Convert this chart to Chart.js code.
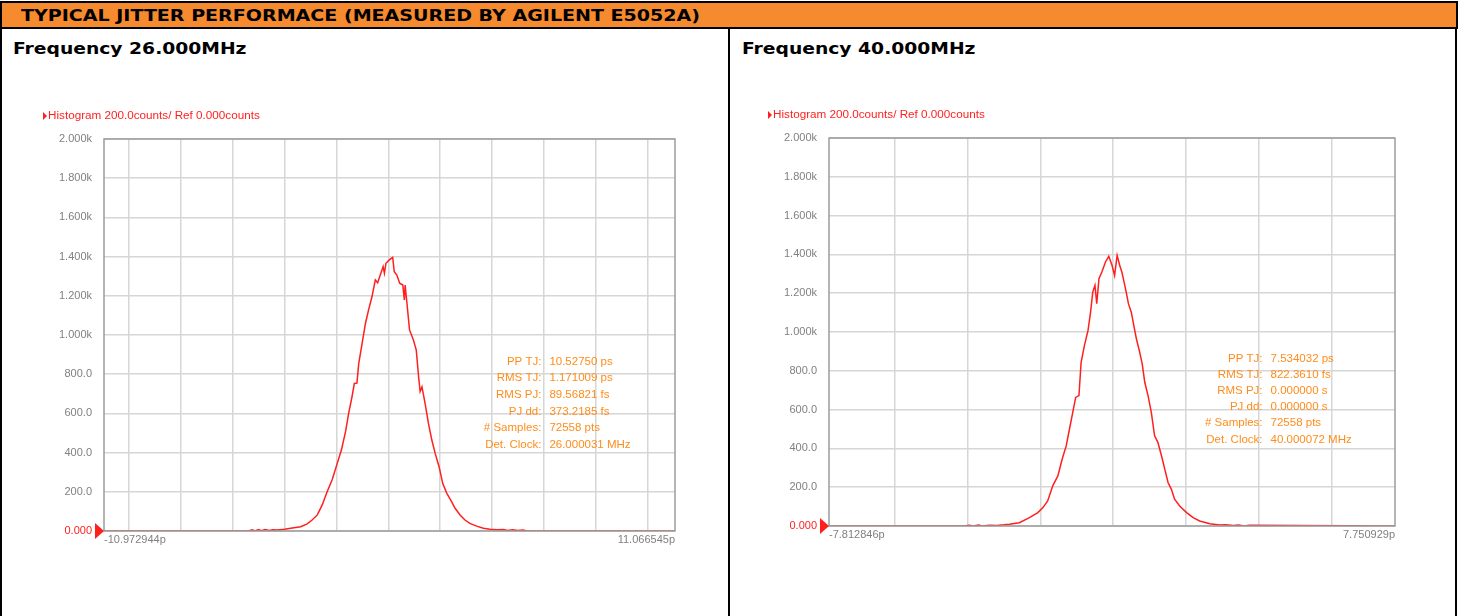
<!DOCTYPE html>
<html>
<head>
<meta charset="utf-8">
<script src="https://cdn.jsdelivr.net/npm/chart.js@4.4.0/dist/chart.umd.min.js"></script>
<style>
  body { margin: 0; background: #fff; }
  #page { position: relative; width: 1458px; height: 616px; overflow: hidden; }
  .hdr { position: absolute; left: 0; top: 1px; width: 1458px; height: 28px; box-sizing: border-box;
         border: 2px solid #000; background: #f68a2f; }
  .hdr span { position: absolute; left: 19px; top: 3px; font: bold 16px "DejaVu Sans", sans-serif; color: #000;
              white-space: nowrap; transform: scaleX(1.19); transform-origin: left center; }
  .vline { position: absolute; top: 27px; bottom: 0; width: 2px; background: #000; }
  .freq { position: absolute; top: 39px; font: bold 16px "DejaVu Sans", sans-serif; color: #000; white-space: nowrap;
          transform: scaleX(1.17); transform-origin: left center; }
  .box { position: absolute; top: 95px; height: 465px; }
</style>
</head>
<body>
<div id="page">
  <div class="hdr"><span>TYPICAL JITTER PERFORMACE (MEASURED BY AGILENT E5052A)</span></div>
  <div class="vline" style="left:0"></div>
  <div class="vline" style="left:728px"></div>
  <div class="vline" style="left:1455px"></div>
  <div class="freq" style="left:13px">Frequency 26.000MHz</div>
  <div class="freq" style="left:742px">Frequency 40.000MHz</div>
  <div class="box" style="left:2px;width:726px"><canvas id="chart26"></canvas></div>
  <div class="box" style="left:731px;width:724px"><canvas id="chart40"></canvas></div>
</div>
<script>
'use strict';

// 26 MHz histogram (time in ps, counts)
const time26 = [-10.972944, -5.4, -5.25, -5.15, -5.0, -4.9, -4.75, -4.6, -4.45, -4.28, -4.0, -3.77, -3.38, -3.13, -2.94,
  -2.74, -2.55, -2.36, -2.17, -1.97, -1.81, -1.65, -1.53, -1.40, -1.31, -1.21, -1.14, -1.01, -0.88, -0.76, -0.63,
  -0.5, -0.41, -0.31, -0.2, -0.15, -0.09, 0.04, 0.17, 0.23, 0.33, 0.44, 0.56, 0.62, 0.65, 0.72, 0.82, 0.97, 1.08,
  1.17, 1.23, 1.3, 1.42, 1.55, 1.68, 1.81, 1.96, 2.1, 2.26, 2.41, 2.58, 2.77, 2.96, 3.15, 3.41, 3.67, 3.92, 4.2,
  4.45, 4.6, 4.8, 5.0, 5.2, 5.35, 11.066545];
const counts26 = [0, 0, 6, 0, 7, 2, 8, 3, 6, 5, 9, 14, 22, 36, 56,
  82, 133, 200, 260, 345, 413, 507, 600, 685, 753, 755, 855, 957, 1060, 1128, 1195,
  1281, 1267, 1306, 1349, 1315, 1366, 1383, 1396, 1323, 1306, 1264, 1255, 1179, 1255, 1162, 1026, 974, 923,
  787, 712, 735, 651, 549, 464, 396, 328, 243, 192, 158, 116, 82, 56, 39, 25, 14, 9, 6,
  8, 3, 6, 2, 5, 0, 0];

// 40 MHz histogram
const time40 = [-7.812846, -4.1, -3.95, -3.85, -3.7, -3.6, -3.4, -3.2, -3.0, -2.85, -2.58, -2.3, -2.07, -1.93, -1.80,
  -1.66, -1.52, -1.40, -1.29, -1.20, -1.11, -1.03, -0.94, -0.88, -0.79, -0.69, -0.62, -0.56, -0.50, -0.45, -0.39,
  -0.31, -0.21, -0.12, -0.03, 0.04, 0.11, 0.18, 0.24, 0.30, 0.36, 0.42, 0.50, 0.56, 0.64, 0.73, 0.80, 0.87, 0.96,
  1.05, 1.14, 1.23, 1.33, 1.42, 1.51, 1.60, 1.69, 1.83, 2.02, 2.20, 2.38, 2.66, 2.93, 3.1, 3.3, 3.45, 3.6, 3.75,
  7.750929];
const counts40 = [0, 0, 4, 0, 5, 0, 4, 3, 6, 9, 17, 43, 69, 95, 129,
  207, 258, 345, 413, 500, 586, 663, 672, 844, 930, 1008, 1102, 1206, 1240, 1146, 1275,
  1309, 1361, 1390, 1344, 1292, 1395, 1344, 1309, 1258, 1206, 1146, 1102, 1042, 965, 896, 836, 741, 672,
  586, 465, 431, 362, 293, 224, 190, 138, 103, 69, 43, 26, 12, 5, 6, 2, 5, 0, 4,
  0];

const yTickLabels = ['0.000', '200.0', '400.0', '600.0', '800.0', '1.000k', '1.200k', '1.400k', '1.600k', '1.800k', '2.000k'];
const xEdgeLabels26 = ['-10.972944p', '11.066545p'];
const xEdgeLabels40 = ['-7.812846p', '7.750929p'];

const statLabels = ['PP TJ:', 'RMS TJ:', 'RMS PJ:', 'PJ dd:', '# Samples:', 'Det. Clock:'];
const statValues26 = ['10.52750 ps', '1.171009 ps', '89.56821 fs', '373.2185 fs', '72558 pts', '26.000031 MHz'];
const statValues40 = ['7.534032 ps', '822.3610 fs', '0.000000 s', '0.000000 s', '72558 pts', '40.000072 MHz'];

const traceTitle = 'Histogram 200.0counts/ Ref 0.000counts';

const RED = '#ff1f1f';
const GRAY_TXT = '#808080';
const ORANGE_TXT = '#ff8c1a';

Chart.defaults.font.family = '"Liberation Sans", Arial, sans-serif';
Chart.defaults.font.size = 11;

// frame, marker triangles, trace title and the measurement readout
const analyzerDecor = {
  id: 'analyzerDecor',
  afterDatasetsDraw(chart, args, opts) {
    const ctx = chart.ctx;
    const a = chart.chartArea;
    const y0 = chart.scales.y.getPixelForValue(0);
    ctx.save();
    ctx.strokeStyle = '#9c9c9c';
    ctx.lineWidth = 1.5;
    ctx.strokeRect(a.left, a.top, a.right - a.left, a.bottom - a.top);

    // reference marker at 0
    ctx.fillStyle = RED;
    ctx.beginPath();
    ctx.moveTo(a.left - 9, y0 - 8);
    ctx.lineTo(a.left, y0);
    ctx.lineTo(a.left - 9, y0 + 8);
    ctx.closePath();
    ctx.fill();

    // trace title
    const tx = a.left - 61, ty = a.top - 23;
    ctx.beginPath();
    ctx.moveTo(tx, ty - 4);
    ctx.lineTo(tx + 4, ty);
    ctx.lineTo(tx, ty + 4);
    ctx.closePath();
    ctx.fill();
    ctx.font = '11.7px "Liberation Sans", Arial, sans-serif';
    ctx.textBaseline = 'middle';
    ctx.textAlign = 'left';
    ctx.fillText(traceTitle, tx + 5, ty);

    // readout
    const cx = a.left + 0.766 * (a.right - a.left);
    const cy = a.top + 0.568 * (a.bottom - a.top);
    ctx.font = '11.5px "Liberation Sans", Arial, sans-serif';
    ctx.fillStyle = ORANGE_TXT;
    opts.values.forEach((v, i) => {
      ctx.textAlign = 'right';
      ctx.fillText(statLabels[i], cx, cy + i * opts.rowGap);
      ctx.textAlign = 'left';
      ctx.fillText(v, cx + 8, cy + i * opts.rowGap);
    });
    ctx.restore();
  }
};

function makeHistogram(canvasId, times, counts, edgeLabels, values, dims) {
  const points = times.map((t, i) => ({ x: t, y: counts[i] }));
  const xMin = times[0];
  const xMax = times[times.length - 1];
  return new Chart(document.getElementById(canvasId), {
    type: 'line',
    data: {
      datasets: [{
        data: points,
        borderColor: RED,
        borderWidth: 1.5,
        pointRadius: 0,
        tension: 0,
        fill: false
      }]
    },
    options: {
      responsive: true,
      maintainAspectRatio: false,
      animation: false,
      events: [],
      layout: { padding: { left: 0, right: dims.right, top: dims.top, bottom: 0 } },
      plugins: {
        legend: { display: false },
        tooltip: { enabled: false },
        analyzerDecor: { values: values, rowGap: dims.rowGap }
      },
      scales: {
        x: {
          type: 'linear',
          min: xMin,
          max: xMax,
          weight: 0,
          afterBuildTicks: (s) => {
            const t = [];
            for (let v = -10; v <= 10; v += 2) {
              if (v > xMin && v < xMax) t.push({ value: v });
            }
            s.ticks = t;
          },
          afterFit: (s) => { s.height = 0; },
          ticks: { display: false },
          grid: { color: '#d6d6d6', lineWidth: 1.5, drawTicks: false },
          border: { display: false }
        },
        x2: {
          type: 'linear',
          position: 'bottom',
          min: xMin,
          max: xMax,
          weight: 1,
          afterBuildTicks: (s) => { s.ticks = [{ value: xMin }, { value: xMax }]; },
          afterFit: (s) => { s.height = dims.bottom; },
          ticks: {
            align: 'inner',
            color: GRAY_TXT,
            padding: 2,
            maxRotation: 0,
            autoSkip: false,
            callback: (v, i) => edgeLabels[i]
          },
          grid: { display: false, drawTicks: false },
          border: { display: false }
        },
        y: {
          min: 0,
          max: 2000,
          afterFit: (s) => { s.width = dims.left; },
          ticks: {
            stepSize: 200,
            padding: 12,
            color: (c) => (c.tick.value === 0 ? RED : GRAY_TXT),
            callback: (v, i) => yTickLabels[i]
          },
          grid: { color: '#d6d6d6', lineWidth: 1.5, drawTicks: false },
          border: { display: false }
        }
      }
    },
    plugins: [analyzerDecor]
  });
}

makeHistogram('chart26', time26, counts26, xEdgeLabels26, statValues26, { left: 102, right: 53, top: 44, bottom: 29, rowGap: 16.6 });
makeHistogram('chart40', time40, counts40, xEdgeLabels40, statValues40, { left: 98, right: 60, top: 43, bottom: 34, rowGap: 16.2 });
</script>
</body>
</html>
